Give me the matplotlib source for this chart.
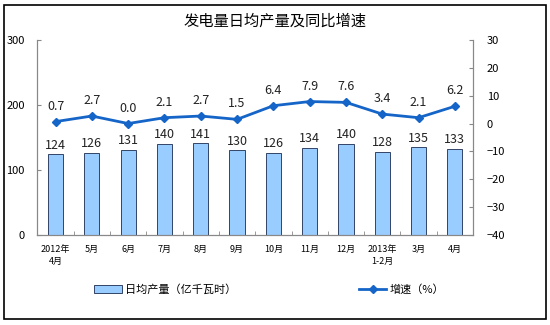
import matplotlib
matplotlib.use("Agg")
import matplotlib.pyplot as plt
import numpy as np
from matplotlib.lines import Line2D
from matplotlib.patches import Patch, Rectangle

plt.rcParams['font.family'] = ['Noto Sans CJK SC', 'DejaVu Sans']

months = ['2012年\n4月', '5月', '6月', '7月', '8月', '9月', '10月', '11月',
          '12月', '2013年\n1-2月', '3月', '4月']
daily_output = [124, 126, 131, 140, 141, 130, 126, 134, 140, 128, 135, 133]
growth = [0.7, 2.7, 0.0, 2.1, 2.7, 1.5, 6.4, 7.9, 7.6, 3.4, 2.1, 6.2]

bar_color = '#99ccff'
line_color = '#1565c8'
axis_color = '#888888'

fig = plt.figure(figsize=(5.5, 3.25), dpi=100)
fig.patches.append(Rectangle((0.007, 0.018), 0.985, 0.968, transform=fig.transFigure,
                             fill=False, edgecolor='black', linewidth=1.2))

ax1 = fig.add_axes([0.068, 0.277, 0.792, 0.6])
ax2 = ax1.twinx()

x = np.arange(len(months))
ax1.bar(x, daily_output, width=0.42, color=bar_color, edgecolor='#1a2a50', linewidth=0.6)
for xi, v in zip(x, daily_output):
    ax1.text(xi, v + 4, str(v), ha='center', va='bottom', fontsize=9, color='#222222')

ax2.plot(x, growth, color=line_color, linewidth=2, marker='D', markersize=4)
for xi, v in zip(x, growth):
    ax2.text(xi, v + 3.2, '%.1f' % v, ha='center', va='bottom', fontsize=9, color='#222222')

ax1.set_xlim(-0.5, len(months) - 0.5)
ax1.set_ylim(0, 300)
ax1.set_yticks([0, 100, 200, 300])
ax2.set_ylim(-40, 30)
ax2.set_yticks(range(-40, 31, 10))

ax1.set_xticks(x)
ax1.set_xticklabels(months, fontsize=6.5, linespacing=1.5)
ax1.set_xticks(np.arange(-0.5, len(months), 1), minor=True)
ax1.tick_params(axis='x', which='major', length=0, pad=7)
ax1.tick_params(axis='x', which='minor', length=3, direction='in', color=axis_color)
ax1.tick_params(axis='y', direction='in', length=3, labelsize=8, color=axis_color, pad=9)
ax2.tick_params(axis='y', direction='in', length=3, labelsize=8, color=axis_color, pad=10)

for ax in (ax1, ax2):
    ax.spines['top'].set_visible(False)
    for s in ('left', 'right', 'bottom'):
        ax.spines[s].set_color(axis_color)
        ax.spines[s].set_linewidth(0.8)

fig.text(0.5, 0.935, '发电量日均产量及同比增速', ha='center', va='center', fontsize=11)

handles = [Patch(facecolor=bar_color, edgecolor='#1a2a50', linewidth=0.6),
           Line2D([], [], color=line_color, linewidth=2, marker='D', markersize=4)]
fig.legend(handles[:1], ['日均产量（亿千瓦时）'], loc='center', bbox_to_anchor=(0.3, 0.11),
           frameon=False, fontsize=8, handlelength=2.5, handletextpad=0.3)
fig.legend(handles[1:], ['增速（%）'], loc='center', bbox_to_anchor=(0.73, 0.11),
           frameon=False, fontsize=8, handlelength=2.5, handletextpad=0.3)

fig.savefig('out.png', dpi=100)
